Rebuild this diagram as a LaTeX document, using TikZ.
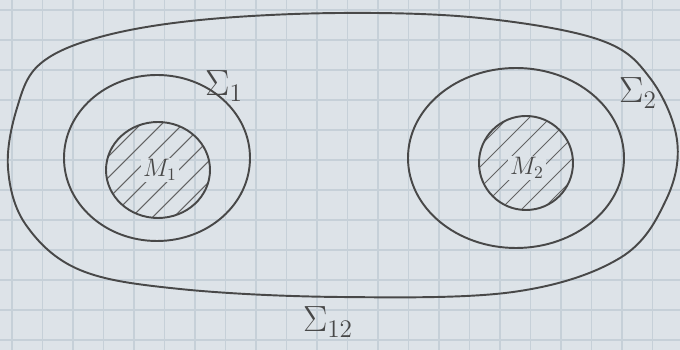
\documentclass[tikz,border=0pt]{standalone}
\usepackage{amsmath, amssymb}
\usepackage{xcolor}
\usepackage{tikz}
\usetikzlibrary{positioning, calc}

\definecolor{paper}{HTML}{DDE3E8}
\definecolor{gridline}{HTML}{C6D0D8}
\definecolor{pencil}{HTML}{484848}

\begin{document}
\begin{tikzpicture}[x=0.02cm, y=-0.02cm,
        pen/.style={draw=pencil, line width=1.1pt, line cap=round},
        hatch/.style={draw=pencil!85, line width=0.6pt, line cap=round},
        sigmalab/.style={text=pencil, font=\huge},
        masslab/.style={text=pencil, font=\Large, fill=paper, inner sep=1pt}]
        \useasboundingbox (0,0) rectangle (680,350);
        % squared paper
        \fill[paper] (0,0) rectangle (680,350);
        \foreach \gx in {12,42.5,...,680} \draw[gridline, line width=0.9pt] (\gx,0) -- (\gx,350);
        \foreach \gy in {10,40,...,350} \draw[gridline, line width=0.9pt] (0,\gy) -- (680,\gy);

        % outer surface Sigma_12
        \draw[pen] plot[smooth cycle, tension=0.6] coordinates {
            (40,64) (100,37) (200,20) (340,13) (480,18) (600,40) (650,78)
            (677,140) (666,200) (620,258) (513,292) (340,297) (180,289)
            (80,270) (26,225) (8,168) (17,108)};

        % mass M_1 and surface Sigma_1
        \begin{scope}
            \clip (158,170) ellipse [x radius=52, y radius=48];
            \foreach \k in {-5,...,5}
                \draw[hatch] ($(158,170)+(\k*21-80,80)$) -- ++(160,-160);
        \end{scope}
        \draw[pen] (158,170) ellipse [x radius=52, y radius=48];
        \draw[pen] (157,158) ellipse [x radius=93, y radius=83];

        % mass M_2 and surface Sigma_2
        \begin{scope}
            \clip (526,163) ellipse [x radius=47, y radius=47];
            \foreach \k in {-5,...,5}
                \draw[hatch] ($(526,163)+(\k*21-80,80)$) -- ++(160,-160);
        \end{scope}
        \draw[pen] (526,163) ellipse [x radius=47, y radius=47];
        \draw[pen] (516,158) ellipse [x radius=108, y radius=90];

        % labels
        \node[masslab] (m1) at (160,170) {$M_1$};
        \node[masslab] (m2) at (527,168) {$M_2$};
        \node[sigmalab] (s1) at (224,86) {$\Sigma_1$};
        \node[sigmalab] (s2) at (638,93) {$\Sigma_2$};
        \node[sigmalab] (s12) at (328,322) {$\Sigma_{12}$};
    \end{tikzpicture}
\end{document}
